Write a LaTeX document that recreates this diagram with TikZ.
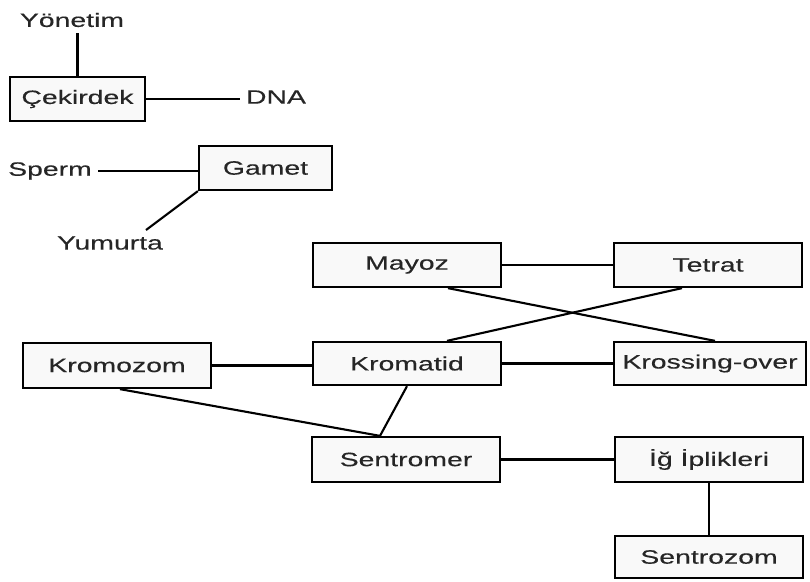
\documentclass[tikz,border=0pt]{standalone}
\usepackage{fontspec}
\setmainfont[FakeStretch=1.47, FakeBold=0.25]{Liberation Sans}
\usepackage{tikz}
\usetikzlibrary{positioning, calc}

\begin{document}
\begin{tikzpicture}[x=0.02cm, y=-0.02cm, font=\fontsize{11}{13}\selectfont, text=black!85,
    cbox/.style={draw, line width=1.3pt, fill=gray!5, minimum width=3.76cm, minimum height=0.88cm, inner sep=0pt},
    link/.style={line width=1.2pt}]
    \useasboundingbox (0,0) rectangle (810,581);
    % top left group
    \node (yon) at (72,20) {Yönetim};
    \node[cbox, minimum width=2.7cm] (cek) at (77.5,99) {Çekirdek};
    \node (dna) at (276,97) {DNA};
    \node (sperm) at (50,171) {Sperm};
    \node[cbox, minimum width=2.66cm] (gam) at (265.5,168) {Gamet};
    \node (yum) at (110,243) {Yumurta};
    % main chart
    \node[cbox] (may) at (407,265) {Mayoz};
    \node[cbox] (tet) at (708,265) {Tetrat};
    \node[cbox, minimum height=0.9cm] (kzom) at (117,365.5) {Kromozom};
    \node[cbox, minimum height=0.86cm] (ktid) at (407,363.5) {Kromatid};
    \node[cbox, minimum width=3.84cm, minimum height=0.86cm] (kros) at (710,363.5) {Krossing-over};
    \node[cbox, minimum height=0.9cm] (smer) at (406,459.5) {Sentromer};
    \node[cbox, minimum height=0.9cm] (ig) at (709,459.5) {İğ İplikleri};
    \node[cbox, minimum height=0.84cm] (szom) at (709,557) {Sentrozom};
    \draw[link] (cek.north) -- (cek.north |- yon.south);
    \draw[link] (cek.east) -- (cek.east -| dna.west);
    \draw[link] (sperm.east) -- (gam.west |- sperm.east);
    \draw[link] (gam.south west) -- ([shift={(36,0)}]yum.north);
    \foreach \a/\b in {may/tet,kzom/ktid,ktid/kros,smer/ig} \draw[link] (\a.east) -- (\a.east -| \b.west);
    \draw[link] ([shift={(41,0)}]may.south) -- ([shift={(5,0)}]kros.north);
    \draw[link] ([shift={(-26,0)}]tet.south) -- ([shift={(40,0)}]ktid.north);
    \draw[link] ([shift={(3,0)}]kzom.south) -- ([shift={(-26,0)}]smer.north);
    \draw[link] (ktid.south) -- ([shift={(-26,0)}]smer.north);
    \draw[link] (ig.south) -- (szom.north);
  \end{tikzpicture}
\end{document}
